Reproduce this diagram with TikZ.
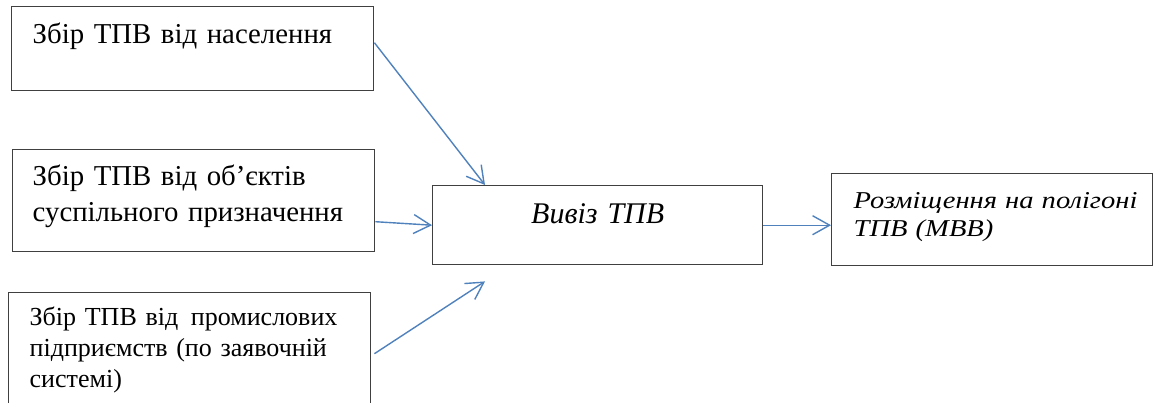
\documentclass[tikz,border=0pt]{standalone}
\usepackage{fontspec}
\setmainfont{Liberation Serif}
\newfontfamily\widefont{Liberation Serif}[FakeStretch=1.18]
\usetikzlibrary{arrows.meta, positioning}

\definecolor{arrowblue}{RGB}{79,129,189}
\definecolor{boxgray}{RGB}{64,64,64}

\begin{document}
\begin{tikzpicture}[x=0.5pt, y=-0.5pt,
        box/.style={rectangle, draw=boxgray, line width=0.7pt, anchor=north west, align=left, inner ysep=0pt},
        arrow/.style={draw=arrowblue, line width=0.7pt, -{Straight Barb[length=8.5pt, width=9.5pt]}}
    ]
        \useasboundingbox (0,0) rectangle (1154,402);
        \node[box, inner xsep=10.5pt, text width=160pt, text height=18.5pt, text depth=23.5pt, font=\fontsize{14.4}{18}\selectfont] (pop) at (11,6) {Збір ТПВ від населення};
        \node[box, inner xsep=10pt, text width=161pt, text height=18pt, text depth=33pt, font=\fontsize{14.4}{18}\selectfont] (pub) at (12,149) {Збір ТПВ від об’єктів\\суспільного~призначення};
        \node[box, inner xsep=10.5pt, text width=160pt, text height=16.5pt, text depth=42.5pt, font=\fontsize{13}{15.5}\selectfont] (ind) at (8,292) {Збір~ТПВ~від~\kern2pt промислових\\підприємств~(по~заявочній\\системі)};
        \node[box, align=center, inner xsep=0pt, text width=165pt, text height=19pt, text depth=20.5pt, font=\itshape\fontsize{15}{18}\selectfont] (vyviz) at (432,185) {Вивіз ТПВ};
        \node[box, inner xsep=5pt, text width=150.5pt, text height=17.5pt, text depth=28.5pt, font=\widefont\itshape\fontsize{12.1}{14}\selectfont] (rozm) at (831,173) {\hspace*{6pt}Розміщення~на~полігоні\\\hspace*{6pt}ТПВ (МВВ)};
        \draw[arrow] ([yshift=3pt]pop.east) -- ([xshift=26.5pt]vyviz.north west);
        \draw[arrow] ([yshift=-10.5pt]pub.east) -- (vyviz.west);
        \draw[arrow] ([xshift=1.5pt,yshift=-1pt]ind.east) -- ([xshift=26.5pt,yshift=-8pt]vyviz.south west);
        \draw[arrow] (vyviz.east) -- (vyviz.east -| rozm.west);
    \end{tikzpicture}
\end{document}
